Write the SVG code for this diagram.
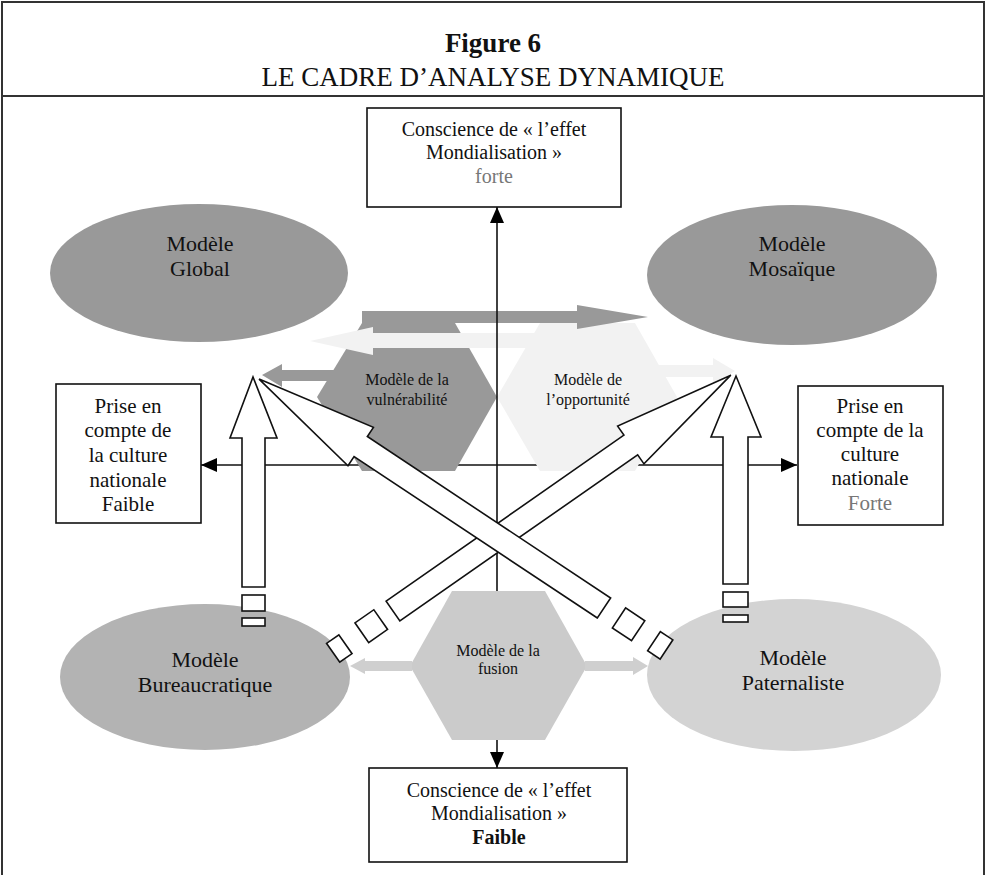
<svg xmlns="http://www.w3.org/2000/svg" width="986" height="875" viewBox="0 0 986 875">
  <defs>
    <marker id="head" viewBox="0 0 16 14" refX="16" refY="7" markerWidth="16" markerHeight="14" markerUnits="userSpaceOnUse" orient="auto">
      <path d="M0,0 L16,7 L0,14 Z" fill="#000"/>
    </marker>
  </defs>
  <style>
    text { font-family: "Liberation Serif", "Times New Roman", serif; text-anchor: middle; fill: #111; }
    .title { font-size: 27px; }
    .box { fill: #fff; stroke: #111; stroke-width: 1.6; }
    .t20 { font-size: 20px; }
    .t21 { font-size: 21px; }
    .t22 { font-size: 22px; }
    .t16 { font-size: 16px; }
    .grey { fill: #777; }
    .axis { stroke: #111; stroke-width: 1.6; fill: none; marker-end: url(#head); }
    .block { fill: #fff; stroke: #111; stroke-width: 1.6; stroke-linejoin: miter; }
    .dark { fill: #999; }
    .pale { fill: #f2f2f2; }
    .mid { fill: #cbcbcb; }
  </style>

  <rect x="0" y="0" width="986" height="875" fill="#fff"/>

  <!-- frame and title band -->
  <g id="frame" fill="none" stroke="#333" stroke-width="2">
    <path d="M2,875 L2,2 L984,2 L984,875"/>
    <line x1="2" y1="96" x2="984" y2="96"/>
  </g>
  <g id="title">
    <text class="title" x="493" y="52" font-weight="bold">Figure 6</text>
    <text class="title" x="493" y="86">LE CADRE D’ANALYSE DYNAMIQUE</text>
  </g>

  <!-- horizontal axis (under the hexagons) -->
  <g id="axis-h">
    <line class="axis" x1="497" y1="465" x2="201" y2="465"/>
    <line class="axis" x1="497" y1="465" x2="797" y2="465"/>
  </g>

  <!-- hexagons -->
  <g id="hex-vulnerabilite">
    <polygon class="dark" points="317,397 362,323 455,323 497,397 455,471 362,471"/>
  </g>
  <g id="hex-opportunite">
    <polygon class="pale" points="497,397 540,323 635,323 677,397 635,471 540,471"/>
  </g>
  <g id="hex-fusion">
    <polygon class="mid" points="410,666 452,591 545,591 587,666 545,740 452,740"/>
  </g>

  <!-- shaded flow arrows -->
  <g id="flows">
    <polygon class="dark" points="362,311 577,311 577,305 648,317 577,329 577,323 362,323"/>
    <polygon class="pale" points="536,333 373,333 373,327 310,341 373,355 373,348 536,348"/>
    <polygon class="dark" points="340,370 282,370 282,364 262,375 282,387 282,381 340,381"/>
    <polygon class="pale" points="655,365 713,365 713,358 735,371 713,384 713,377 655,377"/>
    <polygon fill="#cfcfcf" points="412,661 365,661 365,658 350,666 365,674 365,671 412,671"/>
    <polygon fill="#cfcfcf" points="585,661 633,661 633,657 648,666 633,675 633,671 585,671"/>
  </g>

  <!-- hexagon labels -->
  <text class="t16" x="407" y="385">Modèle de la</text>
  <text class="t16" x="407" y="405">vulnérabilité</text>
  <text class="t16" x="588" y="385">Modèle de</text>
  <text class="t16" x="588" y="405">l’opportunité</text>
  <text class="t16" x="498" y="656">Modèle de la</text>
  <text class="t16" x="498" y="674">fusion</text>

  <!-- vertical axis -->
  <g id="axis-v">
    <line class="axis" x1="497" y1="465" x2="497" y2="207"/>
    <line x1="497" y1="465" x2="497" y2="591" stroke="#111" stroke-width="1.6"/>
    <line class="axis" x1="497" y1="740" x2="497" y2="768"/>
  </g>

  <!-- model ellipses -->
  <g id="modele-global">
    <ellipse class="dark" cx="199" cy="273" rx="149" ry="69"/>
    <text class="t22" x="200" y="251">Modèle</text>
    <text class="t22" x="200" y="276">Global</text>
  </g>
  <g id="modele-mosaique">
    <ellipse class="dark" cx="792" cy="275" rx="145" ry="70"/>
    <text class="t22" x="792" y="251">Modèle</text>
    <text class="t22" x="792" y="276">Mosaïque</text>
  </g>
  <g id="modele-bureaucratique">
    <ellipse fill="#b3b3b3" cx="205" cy="677" rx="145" ry="73"/>
    <text class="t22" x="205" y="667">Modèle</text>
    <text class="t22" x="205" y="692">Bureaucratique</text>
  </g>
  <g id="modele-paternaliste">
    <ellipse fill="#d3d3d3" cx="794" cy="675" rx="147" ry="76"/>
    <text class="t22" x="793" y="665">Modèle</text>
    <text class="t22" x="793" y="690">Paternaliste</text>
  </g>

  <!-- outlined transition arrows -->
  <g id="transitions">
    <g id="bureau-to-global">
      <polygon class="block" points="242,587 242,438 230,438 253,377 277,438 265,438 265,587"/>
      <rect class="block" x="242" y="595" width="23" height="16"/>
      <rect class="block" x="242" y="618" width="23" height="8"/>
    </g>
    <g id="pater-to-mosaique">
      <polygon class="block" points="723,584 723,437 711,437 736,376 761,437 748,437 748,584"/>
      <rect class="block" x="723" y="592" width="25" height="15"/>
      <rect class="block" x="723" y="615" width="25" height="7"/>
    </g>
    <g id="bureau-to-mosaique" transform="translate(393,611) rotate(-34.92)">
      <polygon class="block" points="0,-12 290,-12 290,-23 412,0 290,23 290,12 0,12"/>
      <rect class="block" x="-38" y="-12" width="23" height="24"/>
      <rect class="block" x="-73" y="-11.5" width="15" height="23"/>
    </g>
    <g id="pater-to-global" transform="translate(604,608) rotate(-146.43)">
      <polygon class="block" points="0,-12 292,-12 292,-23 414,0 292,23 292,12 0,12"/>
      <rect class="block" x="-41" y="-12" width="23" height="24"/>
      <rect class="block" x="-75" y="-11.5" width="15" height="23"/>
    </g>
  </g>

  <!-- axis end boxes -->
  <g id="box-top">
    <rect class="box" x="367" y="108" width="254" height="99"/>
    <text class="t20" x="494" y="136">Conscience de « l’effet</text>
    <text class="t20" x="494" y="159">Mondialisation »</text>
    <text class="t20 grey" x="494" y="183">forte</text>
  </g>
  <g id="box-bottom">
    <rect class="box" x="369" y="768" width="258" height="94"/>
    <text class="t20" x="499" y="797">Conscience de « l’effet</text>
    <text class="t20" x="499" y="820">Mondialisation »</text>
    <text class="t20" x="499" y="844" font-weight="bold">Faible</text>
  </g>
  <g id="box-left">
    <rect class="box" x="56" y="384" width="145" height="139"/>
    <text class="t21" x="128" y="413">Prise en</text>
    <text class="t21" x="128" y="437">compte de</text>
    <text class="t21" x="128" y="462">la culture</text>
    <text class="t21" x="128" y="487">nationale</text>
    <text class="t21" x="128" y="511" fill="#444">Faible</text>
  </g>
  <g id="box-right">
    <rect class="box" x="798" y="386" width="145" height="139"/>
    <text class="t21" x="870" y="413">Prise en</text>
    <text class="t21" x="870" y="437">compte de la</text>
    <text class="t21" x="870" y="461">culture</text>
    <text class="t21" x="870" y="485">nationale</text>
    <text class="t21 grey" x="870" y="510">Forte</text>
  </g>
</svg>
